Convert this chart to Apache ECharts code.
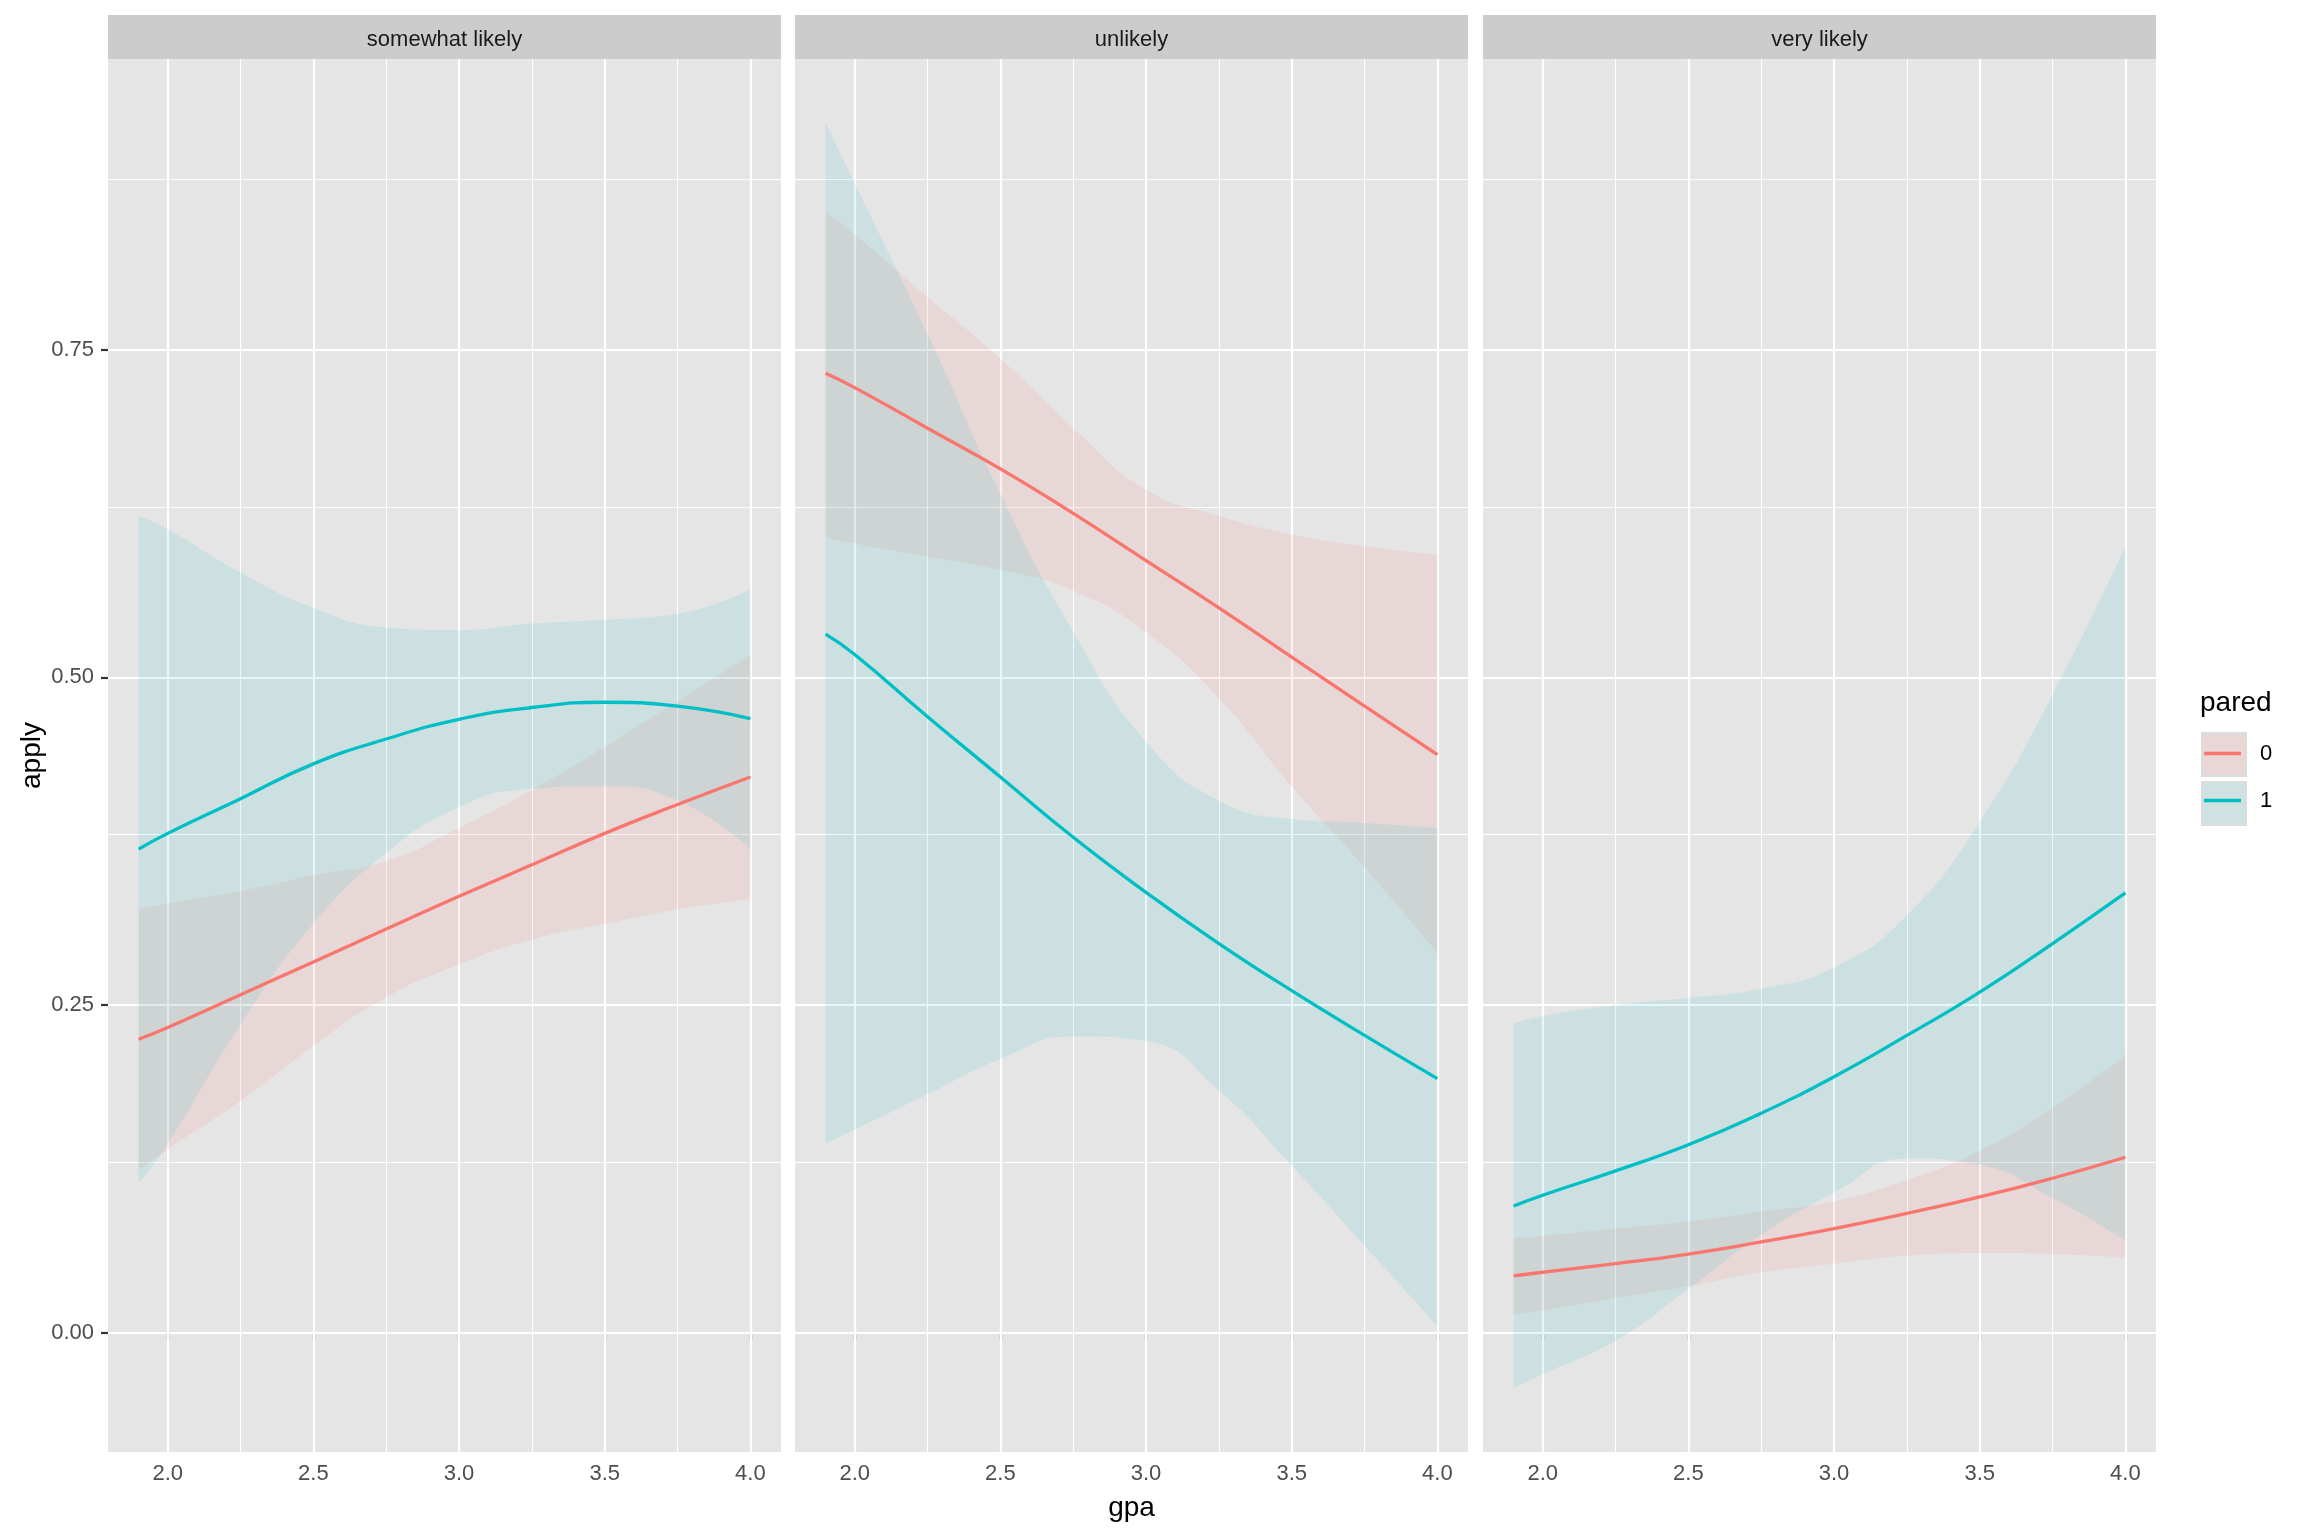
<!DOCTYPE html>
<html>
<head>
<meta charset="utf-8">
<script src="https://cdn.jsdelivr.net/npm/echarts@6/dist/echarts.min.js"></script>
<style>
html,body{margin:0;padding:0;background:#fff;}
#chart{width:2304px;height:1536px;}
</style>
</head>
<body>
<div id="chart"></div>
<script>
// ---------- data ----------
const panels = ['somewhat likely', 'unlikely', 'very likely'];
const paredLevels = ['0', '1'];
const gpa = [1.9, 2.0, 2.25, 2.5, 2.75, 3.0, 3.25, 3.5, 3.75, 4.0];

const xTicks = [2.0, 2.5, 3.0, 3.5, 4.0];
const xMinor = [2.25, 2.75, 3.25, 3.75];
const yTicks = [0, 0.25, 0.5, 0.75];
const yMinor = [0.125, 0.375, 0.625, 0.875];

// somewhat likely
const sl_fit0 = [0.224, 0.233, 0.258, 0.283, 0.308, 0.333, 0.357, 0.381, 0.403, 0.424];
const sl_lo0  = [0.124, 0.140, 0.177, 0.219, 0.256, 0.281, 0.300, 0.312, 0.323, 0.331];
const sl_hi0  = [0.323, 0.3275, 0.337, 0.349, 0.360, 0.385, 0.414, 0.447, 0.482, 0.517];
const sl_fit1 = [0.369, 0.381, 0.4075, 0.434, 0.453, 0.468, 0.477, 0.481, 0.478, 0.4685];
const sl_lo1  = [0.114, 0.144, 0.235, 0.312, 0.366, 0.401, 0.415, 0.417, 0.406, 0.369];
const sl_hi1  = [0.623, 0.613, 0.580, 0.553, 0.538, 0.536, 0.541, 0.544, 0.5485, 0.567];

// unlikely
const ul_fit0 = [0.732, 0.721, 0.690, 0.659, 0.625, 0.589, 0.553, 0.5155, 0.478, 0.441];
const ul_lo0  = [0.607, 0.602, 0.592, 0.582, 0.566, 0.5345, 0.484, 0.417, 0.355, 0.290];
const ul_hi0  = [0.855, 0.838, 0.790, 0.743, 0.690, 0.643, 0.623, 0.609, 0.600, 0.5935];
const ul_fit1 = [0.533, 0.5175, 0.470, 0.424, 0.378, 0.336, 0.297, 0.261, 0.227, 0.194];
const ul_lo1  = [0.1445, 0.155, 0.182, 0.209, 0.226, 0.2225, 0.185, 0.1275, 0.0665, 0.0054];
const ul_hi1  = [0.923, 0.877, 0.762, 0.640, 0.535, 0.451, 0.406, 0.392, 0.389, 0.385];

// very likely
const vl_fit0 = [0.0435, 0.0463, 0.0528, 0.0602, 0.0694, 0.0796, 0.0912, 0.1037, 0.118, 0.134];
const vl_lo0  = [0.0139, 0.0171, 0.0264, 0.0356, 0.0463, 0.0528, 0.0588, 0.061, 0.0602, 0.0574];
const vl_hi0  = [0.0727, 0.074, 0.0796, 0.085, 0.0926, 0.1005, 0.1167, 0.139, 0.172, 0.2116];
const vl_fit1 = [0.0968, 0.105, 0.1236, 0.1435, 0.1676, 0.1954, 0.2269, 0.260, 0.297, 0.3356];
const vl_lo1  = [-0.042, -0.0315, -0.006, 0.0333, 0.075, 0.107, 0.133, 0.128, 0.103, 0.0704];
const vl_hi1  = [0.236, 0.2417, 0.250, 0.2556, 0.2625, 0.2787, 0.3185, 0.390, 0.487, 0.600];

const fits = [[sl_fit0, sl_fit1], [ul_fit0, ul_fit1], [vl_fit0, vl_fit1]];
const lows = [[sl_lo0, sl_lo1], [ul_lo0, ul_lo1], [vl_lo0, vl_lo1]];
const highs = [[sl_hi0, sl_hi1], [ul_hi0, ul_hi1], [vl_hi0, vl_hi1]];

// ---------- styling / layout ----------
const FONT = 'Liberation Sans, Arial, Helvetica, sans-serif';
const lineColors = ['#F8766D', '#00BFC4'];
const ribbonColors = ['rgba(248,118,109,0.12)', 'rgba(0,191,196,0.105)'];
const keyColors = ['#E8D7D6', '#D0E1E2'];
const panelLeft = [108, 795, 1483];
const panelW = 673, panelTop = 59, panelH = 1393;
const stripTop = 15, stripH = 44;
const xMin = 1.795, xMax = 4.105, yMin = -0.0908, yMax = 0.9716;

const grids = [], xAxes = [], yAxes = [], series = [], graphics = [];

panels.forEach((p, i) => {
  grids.push({left: panelLeft[i], top: panelTop, width: panelW, height: panelH,
    show: true, backgroundColor: '#E5E5E5', borderWidth: 0, containLabel: false});
  xAxes.push({type: 'value', gridIndex: i, min: xMin, max: xMax,
    splitLine: {show: false}, axisLine: {show: false},
    axisTick: {show: true, customValues: xTicks, length: 7, lineStyle: {color: '#333333', width: 2.2}},
    axisLabel: {show: true, customValues: xTicks, formatter: v => Number(v).toFixed(1),
      fontSize: 22, color: '#4D4D4D', margin: 11, fontFamily: FONT},
    name: i === 1 ? 'gpa' : '', nameLocation: 'middle', nameGap: 42,
    nameTextStyle: {fontSize: 28, color: '#000000', fontFamily: FONT}});
  yAxes.push({type: 'value', gridIndex: i, min: yMin, max: yMax,
    splitLine: {show: false}, axisLine: {show: false},
    axisTick: {show: i === 0, customValues: yTicks, length: 7, lineStyle: {color: '#333333', width: 2.2}},
    axisLabel: {show: i === 0, customValues: yTicks, formatter: v => Number(v).toFixed(2),
      fontSize: 22, color: '#4D4D4D', margin: 14, fontFamily: FONT},
    name: i === 0 ? 'apply' : '', nameLocation: 'middle', nameGap: 62, nameRotate: 90,
    nameTextStyle: {fontSize: 28, color: '#000000', fontFamily: FONT}});

  // grid lines through axis scales
  const ml = [];
  xTicks.forEach(v => ml.push({xAxis: v, lineStyle: {width: 2.2}}));
  xMinor.forEach(v => ml.push({xAxis: v, lineStyle: {width: 1.1}}));
  yTicks.forEach(v => ml.push({yAxis: v, lineStyle: {width: 2.2}}));
  yMinor.forEach(v => ml.push({yAxis: v, lineStyle: {width: 1.1}}));
  series.push({type: 'line', name: 'grid' + i, xAxisIndex: i, yAxisIndex: i, data: [], z: 1, silent: true,
    markLine: {silent: true, z: 1, animation: false, symbol: ['none', 'none'], label: {show: false},
      lineStyle: {color: '#FFFFFF', type: 'solid'}, emphasis: {disabled: true}, data: ml}});

  // ribbons: value dimension first so the stack is applied on y
  paredLevels.forEach((lev, g) => {
    const lo = lows[i][g], hi = highs[i][g];
    const st = 'rib' + i + '_' + g;
    series.push({type: 'line', name: 'lo' + lev, xAxisIndex: i, yAxisIndex: i, stack: st, stackStrategy: 'all',
      encode: {x: 1, y: 0},
      data: gpa.map((x, k) => [lo[k], x]), symbol: 'none', smooth: true, silent: true, z: 2,
      lineStyle: {width: 0, opacity: 0}, animation: false});
    series.push({type: 'line', name: 'band' + lev, xAxisIndex: i, yAxisIndex: i, stack: st, stackStrategy: 'all',
      encode: {x: 1, y: 0},
      data: gpa.map((x, k) => [hi[k] - lo[k], x]), symbol: 'none', smooth: true, silent: true, z: 2,
      lineStyle: {width: 0, opacity: 0}, areaStyle: {color: ribbonColors[g], opacity: 1}, animation: false});
  });
  // fitted lines
  paredLevels.forEach((lev, g) => {
    const f = fits[i][g];
    series.push({type: 'line', name: lev, xAxisIndex: i, yAxisIndex: i,
      data: gpa.map((x, k) => [x, f[k]]), symbol: 'none', smooth: true, silent: true, z: 3,
      lineStyle: {color: lineColors[g], width: 3.3}, itemStyle: {color: lineColors[g]}, animation: false});
  });

  // facet strip
  graphics.push({type: 'rect', left: panelLeft[i], top: stripTop, silent: true,
    shape: {width: panelW, height: stripH}, style: {fill: '#CCCCCC'}});
  graphics.push({type: 'text', x: panelLeft[i] + panelW / 2, y: stripTop + stripH / 2 + 3, silent: true,
    style: {text: p, font: '22px ' + FONT, fill: '#1A1A1A', align: 'center', verticalAlign: 'middle'}});
});

const option = {
  backgroundColor: '#FFFFFF',
  animation: false,
  textStyle: {fontFamily: FONT},
  title: {text: 'pared', left: 2200, top: 689, padding: 0,
    textStyle: {fontSize: 28, fontWeight: 'normal', color: '#000000', fontFamily: FONT}},
  grid: grids,
  xAxis: xAxes,
  yAxis: yAxes,
  legend: [
    {orient: 'vertical', left: 2201, top: 732, padding: 0, itemWidth: 44, itemHeight: 43, itemGap: 4,
      selectedMode: false, formatter: () => '', textStyle: {fontSize: 10},
      data: paredLevels.map((lev, g) => ({name: lev, icon: 'rect',
        itemStyle: {color: keyColors[g], borderColor: '#DCDCDC', borderWidth: 2}}))},
    {orient: 'vertical', left: 2204, top: 730, padding: 0, itemWidth: 37, itemHeight: 3.5, itemGap: 0, z: 5,
      selectedMode: false,
      textStyle: {fontSize: 22, color: '#000000', lineHeight: 47, fontFamily: FONT, padding: [0, 0, 0, 14]},
      data: paredLevels.map((lev, g) => ({name: lev, icon: 'rect',
        itemStyle: {color: lineColors[g], borderWidth: 0}}))}
  ],
  graphic: graphics,
  series: series
};

const chart = echarts.init(document.getElementById('chart'), null, {renderer: 'canvas', width: 2304, height: 1536});
chart.setOption(option);
</script>
</body>
</html>
